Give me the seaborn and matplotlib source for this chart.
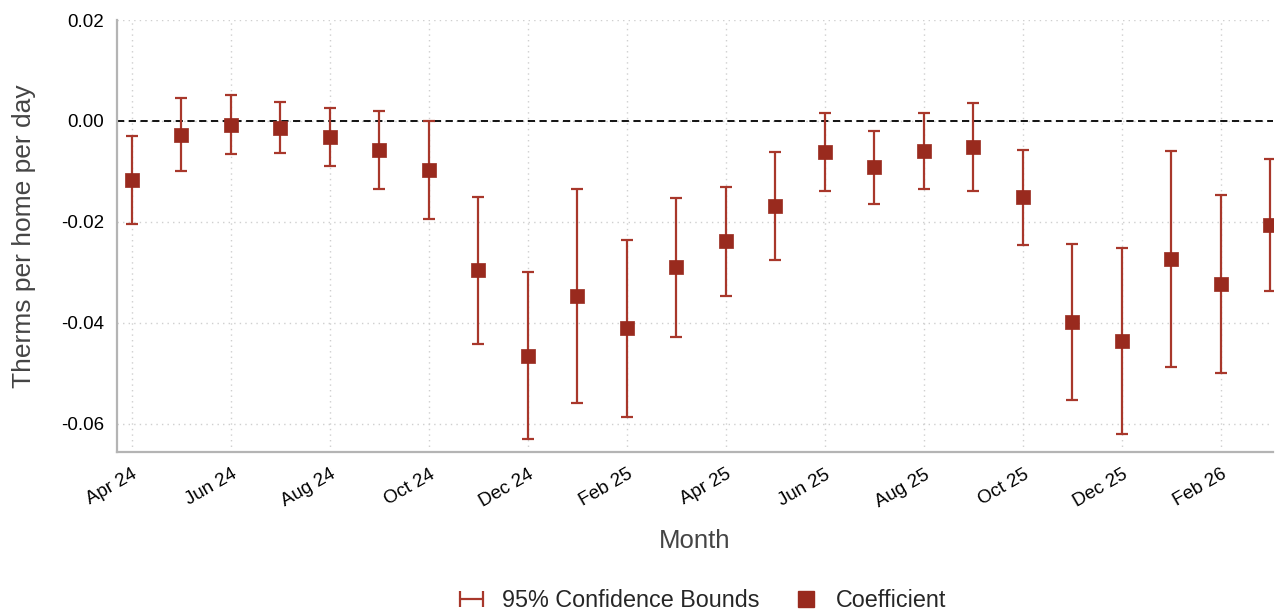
import matplotlib
matplotlib.use("Agg")
import matplotlib.pyplot as plt
from matplotlib.lines import Line2D
from matplotlib.legend_handler import HandlerLine2D
import seaborn as sns
import pandas as pd

months = ["Apr 24", "May 24", "Jun 24", "Jul 24", "Aug 24", "Sep 24", "Oct 24", "Nov 24",
          "Dec 24", "Jan 25", "Feb 25", "Mar 25", "Apr 25", "May 25", "Jun 25", "Jul 25",
          "Aug 25", "Sep 25", "Oct 25", "Nov 25", "Dec 25", "Jan 26", "Feb 26", "Mar 26"]
coef = [-0.0117, -0.0027, -0.0008, -0.0013, -0.0031, -0.0058, -0.0098, -0.0295,
        -0.0465, -0.0347, -0.0411, -0.0290, -0.0238, -0.0169, -0.0062, -0.0092,
        -0.0059, -0.0051, -0.0151, -0.0399, -0.0436, -0.0273, -0.0323, -0.0206]
ci_hi = [-0.0029, 0.0045, 0.0051, 0.0038, 0.0026, 0.0019, -0.0001, -0.0150,
         -0.0300, -0.0135, -0.0235, -0.0152, -0.0131, -0.0062, 0.0015, -0.0019,
         0.0015, 0.0036, -0.0057, -0.0244, -0.0251, -0.0059, -0.0146, -0.0076]
ci_lo = [-0.0204, -0.0099, -0.0066, -0.0064, -0.0089, -0.0134, -0.0194, -0.0441,
         -0.0630, -0.0559, -0.0586, -0.0428, -0.0346, -0.0275, -0.0139, -0.0164,
         -0.0134, -0.0139, -0.0246, -0.0553, -0.0621, -0.0487, -0.0500, -0.0337]

df = pd.DataFrame({"pos": range(len(months)), "month": months,
                   "coef": coef, "lo": ci_lo, "hi": ci_hi})

sns.set_theme(style="white")
plt.rcParams["font.family"] = ["Liberation Sans", "DejaVu Sans"]

dark_red = "#992a1e"
ci_red = "#a8372b"
axis_grey = "#b4b4b4"

fig = plt.figure(figsize=(12.84, 6.16), dpi=100)
ax = fig.add_axes([0.0911, 0.266, 0.9003, 0.7015])

ax.errorbar(df["pos"], df["coef"],
            yerr=[df["coef"] - df["lo"], df["hi"] - df["coef"]],
            fmt="none", ecolor=ci_red, elinewidth=1.6, capsize=4.5, capthick=1.6, zorder=3)
sns.scatterplot(data=df, x="pos", y="coef", marker="s", s=110, color=dark_red,
                edgecolor=dark_red, linewidth=0.5, ax=ax, zorder=4)

ax.axhline(0, color="black", linestyle=(0, (4, 2.5)), linewidth=1.3, zorder=2)

ax.set_xlim(-0.3, 23.05)
ax.set_ylim(-0.0656, 0.02)
ax.set_xticks(df["pos"][::2])
ax.set_xticklabels(df["month"][::2], rotation=30, ha="right", rotation_mode="anchor")
ax.set_yticks([0.02, 0.0, -0.02, -0.04, -0.06])
ax.set_yticklabels(["0.02", "0.00", "-0.02", "-0.04", "-0.06"])

ax.grid(True, color="#cfcfcf", linestyle=(0, (1, 3)), linewidth=1.0, zorder=0)
ax.set_axisbelow(True)

for s in ["top", "right"]:
    ax.spines[s].set_visible(False)
for s in ["left", "bottom"]:
    ax.spines[s].set_color(axis_grey)
    ax.spines[s].set_linewidth(1.6)
ax.tick_params(axis="both", which="both", length=6, width=1.3, color=axis_grey,
               labelsize=13.5, labelcolor="black", direction="out", pad=3)
ax.tick_params(axis="x", pad=4)

ax.set_xlabel("Month", fontsize=18.5, color="#444444", labelpad=13)
ax.set_ylabel("Therms per home per day", fontsize=19, color="#444444", labelpad=18)

ci_handle = Line2D([0, 1], [0, 0], color=ci_red, linewidth=1.6, marker="|",
                   markersize=12, markeredgewidth=1.6)
coef_handle = Line2D([], [], color=dark_red, linestyle="none", marker="s", markersize=11)
fig.legend([ci_handle, coef_handle], ["95% Confidence Bounds", "Coefficient"],
           handler_map={ci_handle: HandlerLine2D(numpoints=2)},
           loc="center", bbox_to_anchor=(0.545, 0.025), ncol=2, frameon=False,
           fontsize=16.8, handlelength=1.6, handletextpad=0.5, columnspacing=1.2)

fig.savefig("out.png", dpi=100)
